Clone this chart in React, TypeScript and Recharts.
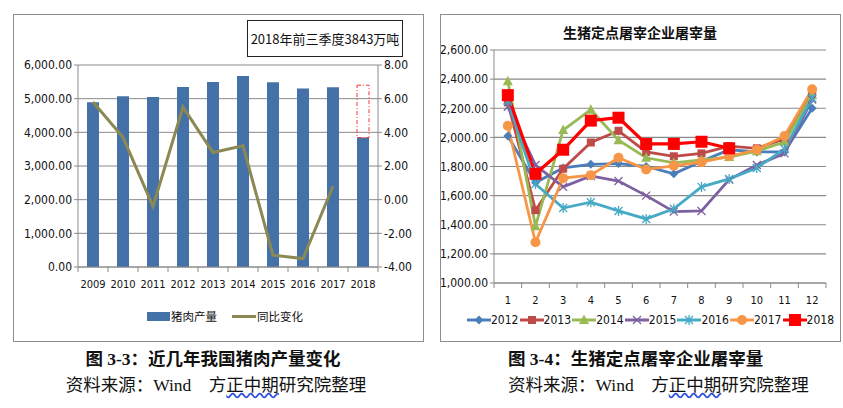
import React from "react";
import { Bar, CartesianGrid, ComposedChart, Line, LineChart, XAxis, YAxis } from "recharts";

// ---- chart 3-3: pork output by year ----
const years = ["2009", "2010", "2011", "2012", "2013", "2014", "2015", "2016", "2017", "2018"];
const porkOutput = [4890, 5071, 5053, 5343, 5493, 5671, 5487, 5299, 5340, 3843];
// dashed box above the 2018 bar (rest of the year still to come)
const porkPending = [0, 0, 0, 0, 0, 0, 0, 0, 0, 1557];
const yoyChange = [5.8, 3.7, -0.4, 5.5, 2.8, 3.2, -3.3, -3.5, 0.8, null];
const outputTicks = [0, 1000, 2000, 3000, 4000, 5000, 6000];
const changeTicks = [-4, -2, 0, 2, 4, 6, 8];

// ---- chart 3-4: hogs slaughtered by designated plants ----
const months = ["1", "2", "3", "4", "5", "6", "7", "8", "9", "10", "11", "12"];
const s2012 = [2010, 1690, 1790, 1815, 1820, 1800, 1750, 1835, 1915, 1900, 1900, 2200];
const s2013 = [2240, 1500, 1785, 1965, 2045, 1900, 1870, 1890, 1940, 1925, 1990, 2310];
const s2014 = [2385, 1390, 2050, 2190, 1980, 1860, 1825, 1845, 1865, 1905, 1970, 2290];
const s2015 = [2210, 1810, 1660, 1735, 1700, 1600, 1490, 1495, 1710, 1810, 1890, 2260];
const s2016 = [2250, 1680, 1515, 1555, 1495, 1440, 1510, 1660, 1715, 1790, 1920, 2270];
const s2017 = [2080, 1280, 1720, 1740, 1860, 1780, 1805, 1830, 1870, 1915, 2010, 2330];
const s2018 = [2290, 1750, 1915, 2115, 2135, 1955, 1955, 1970, 1925, null, null, null];
const slaughterTicks = [1000, 1200, 1400, 1600, 1800, 2000, 2200, 2400, 2600];

const porkData = years.map((y, i) => ({
  year: y,
  output: porkOutput[i],
  pending: porkPending[i],
  change: yoyChange[i],
}));

const seriesList = [
  { key: "2012", values: s2012, color: "#4A7EBB", shape: "diamond" },
  { key: "2013", values: s2013, color: "#BE4B48", shape: "square" },
  { key: "2014", values: s2014, color: "#98B954", shape: "triangle" },
  { key: "2015", values: s2015, color: "#7D60A0", shape: "cross" },
  { key: "2016", values: s2016, color: "#46AAC5", shape: "star" },
  { key: "2017", values: s2017, color: "#F79646", shape: "circle" },
  { key: "2018", values: s2018, color: "#FF0000", shape: "bigsquare" },
];

const slaughterData = months.map((m, i) => {
  const row: any = { month: m };
  seriesList.forEach((s) => (row[s.key] = s.values[i]));
  return row;
});

const NARROW = "'Liberation Sans Narrow', 'DejaVu Sans Condensed', 'Noto Sans CJK SC', sans-serif";
const CJK = "'Liberation Sans Narrow', 'Noto Sans CJK SC', sans-serif";
const SERIF = "'Liberation Serif', 'Noto Sans CJK SC', serif";
const GRID = "#8a8a8a";
const BAR_BLUE = "#4472A8";
const OLIVE = "#8C8853";
const MONTH_BAND = 332 / 12;

const fmt = (v: number) =>
  v.toLocaleString("en-US", { minimumFractionDigits: 2, maximumFractionDigits: 2 });

// category tick with Excel style marks between the categories
const BandTick = (props: any) => {
  const { x, y, payload, index, band, count } = props;
  return (
    <g>
      <line x1={x - band / 2} x2={x - band / 2} y1={y} y2={y + 5} stroke={GRID} />
      {index === count - 1 && (
        <line x1={x + band / 2} x2={x + band / 2} y1={y} y2={y + 5} stroke={GRID} />
      )}
      <text x={x} y={y + 21} textAnchor="middle" fontSize={11} fontFamily={NARROW} fill="#111">
        {payload.value}
      </text>
    </g>
  );
};

const Marker = ({ cx, cy, shape, color }: any) => {
  if (typeof cx !== "number" || typeof cy !== "number" || isNaN(cy)) return <g />;
  switch (shape) {
    case "diamond":
      return <path d={`M${cx},${cy - 4.5}L${cx + 4.5},${cy}L${cx},${cy + 4.5}L${cx - 4.5},${cy}Z`} fill={color} />;
    case "square":
      return <rect x={cx - 4} y={cy - 4} width={8} height={8} fill={color} />;
    case "triangle":
      return <path d={`M${cx},${cy - 5.5}L${cx + 5},${cy + 4}L${cx - 5},${cy + 4}Z`} fill={color} />;
    case "cross":
      return (
        <path d={`M${cx - 4},${cy - 4}L${cx + 4},${cy + 4}M${cx + 4},${cy - 4}L${cx - 4},${cy + 4}`} stroke={color} strokeWidth={1.3} />
      );
    case "star":
      return (
        <path
          d={`M${cx - 4},${cy - 4}L${cx + 4},${cy + 4}M${cx + 4},${cy - 4}L${cx - 4},${cy + 4}M${cx},${cy - 5}L${cx},${cy + 5}`}
          stroke={color}
          strokeWidth={1.3}
        />
      );
    case "circle":
      return <circle cx={cx} cy={cy} r={5} fill={color} />;
    case "bigsquare":
      return <rect x={cx - 6} y={cy - 6} width={12} height={12} fill={color} />;
    default:
      return <g />;
  }
};

const PorkChart = () => (
  <ComposedChart
    width={409}
    height={326}
    data={porkData}
    barSize={12}
    margin={{ top: 50, right: 5, bottom: 44, left: 14 }}
  >
    <CartesianGrid yAxisId="left" vertical={false} stroke={GRID} />
    <XAxis
      dataKey="year"
      stroke={GRID}
      height={30}
      tickLine={false}
      tickSize={0}
      tickMargin={0}
      interval={0}
      tick={<BandTick band={30} count={years.length} />}
    />
    <YAxis
      yAxisId="left"
      width={50}
      domain={[0, 6000]}
      ticks={outputTicks}
      tickFormatter={fmt}
      stroke={GRID}
      tickSize={4}
      tick={{ fontSize: 12, fontFamily: NARROW, fill: "#111" }}
    />
    <YAxis
      yAxisId="right"
      orientation="right"
      width={40}
      domain={[-4, 8]}
      ticks={changeTicks}
      tickFormatter={(v: number) => v.toFixed(2)}
      stroke={GRID}
      tickSize={4}
      tick={{ fontSize: 12, fontFamily: NARROW, fill: "#111" }}
    />
    <Bar yAxisId="left" dataKey="output" stackId="a" fill={BAR_BLUE} isAnimationActive={false} />
    <Bar
      yAxisId="left"
      dataKey="pending"
      stackId="a"
      fill="none"
      stroke="#FF3030"
      strokeDasharray="4 2 1 2"
      legendType="none"
      isAnimationActive={false}
    />
    <Line
      yAxisId="right"
      dataKey="change"
      stroke={OLIVE}
      strokeWidth={3}
      dot={false}
      activeDot={false}
      isAnimationActive={false}
    />
  </ComposedChart>
);

const SlaughterChart = () => (
  <LineChart
    width={399}
    height={326}
    data={slaughterData}
    margin={{ top: 35, right: 14, bottom: 33, left: 3 }}
  >
    <CartesianGrid vertical={false} stroke={GRID} strokeWidth={1.2} />
    <XAxis
      dataKey="month"
      stroke={GRID}
      height={25}
      tickLine={false}
      tickSize={0}
      tickMargin={0}
      interval={0}
      padding={{ left: MONTH_BAND / 2, right: MONTH_BAND / 2 }}
      tick={<BandTick band={MONTH_BAND} count={months.length} />}
    />
    <YAxis
      width={50}
      domain={[1000, 2600]}
      ticks={slaughterTicks}
      tickFormatter={fmt}
      stroke={GRID}
      tickSize={4}
      tick={{ fontSize: 12, fontFamily: NARROW, fill: "#111" }}
    />
    {seriesList.map((s) => (
      <Line
        key={s.key}
        dataKey={s.key}
        stroke={s.color}
        strokeWidth={s.key === "2018" ? 3.2 : 2.8}
        dot={(p: any) => <Marker key={`${s.key}-${p.index}`} cx={p.cx} cy={p.cy} shape={s.shape} color={s.color} />}
        activeDot={false}
        isAnimationActive={false}
      />
    ))}
  </LineChart>
);

const abs = (left: number, top: number, extra: React.CSSProperties = {}): React.CSSProperties => ({
  position: "absolute",
  left,
  top,
  ...extra,
});

const App = () => (
  <div style={{ position: "absolute", left: 0, top: 0, width: 843, height: 408, background: "#fff", overflow: "hidden" }}>
    {/* left panel */}
    <div style={abs(13, 14, { width: 409, height: 326, border: "1px solid #8c8c8c" })}>
      <PorkChart />
    </div>
    <div
      style={abs(247, 20, {
        width: 154,
        height: 35,
        border: "1px solid #222",
        background: "#fff",
        fontFamily: CJK,
        fontSize: 13,
        lineHeight: "35px",
        textAlign: "center",
        color: "#111",
      })}
    >
      2018年前三季度3843万吨
    </div>
    <div style={abs(147, 308, { display: "flex", alignItems: "center", fontFamily: CJK, fontSize: 11.5, color: "#111", height: 16 })}>
      <span style={{ display: "inline-block", width: 23, height: 9, background: BAR_BLUE }} />
      <span style={{ marginLeft: 1 }}>猪肉产量</span>
      <span style={{ display: "inline-block", width: 24, height: 3, background: OLIVE, marginLeft: 15 }} />
      <span style={{ marginLeft: 1 }}>同比变化</span>
    </div>

    {/* right panel */}
    <div style={abs(440, 14, { width: 399, height: 326, border: "1px solid #8c8c8c" })}>
      <SlaughterChart />
    </div>
    <div
      style={abs(540, 22, {
        width: 200,
        textAlign: "center",
        fontFamily: CJK,
        fontWeight: "bold",
        fontSize: 14,
        color: "#111",
      })}
    >
      生猪定点屠宰企业屠宰量
    </div>
    <div style={abs(467, 312, { display: "flex", alignItems: "center", height: 16, fontFamily: NARROW, fontSize: 12, color: "#111" })}>
      {seriesList.map((s) => (
        <div key={s.key} style={{ display: "flex", alignItems: "center", width: 52.6 }}>
          <svg width={24} height={14}>
            <line x1={0} x2={24} y1={7} y2={7} stroke={s.color} strokeWidth={3} />
            <Marker cx={12} cy={7} shape={s.shape} color={s.color} />
          </svg>
          <span>{s.key}</span>
        </div>
      ))}
    </div>

    {/* captions */}
    <div style={abs(0, 345, { width: 426, textAlign: "center", fontFamily: SERIF, fontWeight: "bold", fontSize: 17.5, color: "#111" })}>
      图 3-3：近几年我国猪肉产量变化
    </div>
    <div style={abs(0, 371, { width: 432, textAlign: "center", fontFamily: SERIF, fontSize: 17.5, color: "#111" })}>
      资料来源：Wind　方
      <span style={{ textDecoration: "underline wavy #3050e0" }}>正中期</span>
      研究院整理
    </div>
    <div style={abs(508, 345, { fontFamily: SERIF, fontWeight: "bold", fontSize: 17.5, color: "#111" })}>
      图 3-4：生猪定点屠宰企业屠宰量
    </div>
    <div style={abs(508, 371, { fontFamily: SERIF, fontSize: 17.5, color: "#111" })}>
      资料来源：Wind　方
      <span style={{ textDecoration: "underline wavy #3050e0" }}>正中期</span>
      研究院整理
    </div>
  </div>
);

export default App;
